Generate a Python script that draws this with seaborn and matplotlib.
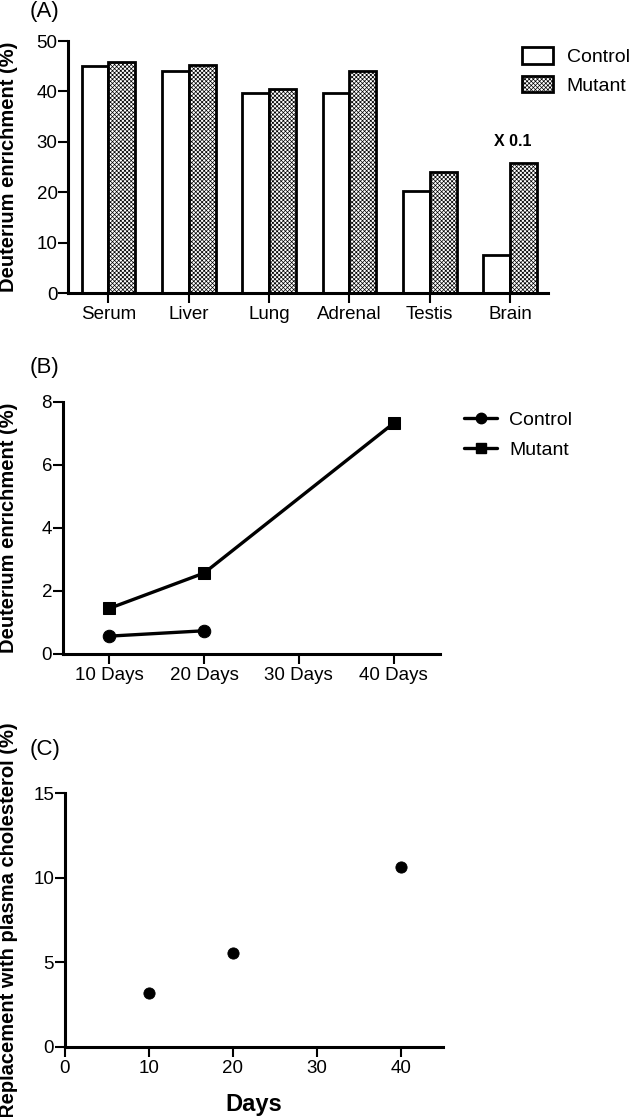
import matplotlib
matplotlib.use("Agg")
import pandas as pd
import matplotlib.pyplot as plt
import seaborn as sns
from matplotlib.patches import Patch
from matplotlib.lines import Line2D

# Panel A: deuterium enrichment by tissue
tissues = ["Serum", "Liver", "Lung", "Adrenal", "Testis", "Brain"]
control_enrich = [45.0, 44.0, 39.6, 39.7, 20.3, 7.5]
mutant_enrich = [45.9, 45.2, 40.5, 44.0, 24.1, 25.8]

# Panel B: enrichment over time
days_control = [10, 20]
control_time = [0.56, 0.73]
days_mutant = [10, 20, 40]
mutant_time = [1.44, 2.56, 7.31]
day_ticks = [10, 20, 30, 40]
day_labels = ["10 Days", "20 Days", "30 Days", "40 Days"]

# Panel C: replacement with plasma cholesterol
days_repl = [10, 20, 40]
replacement = [3.16, 5.55, 10.64]

W, H = 633, 1117

sns.set_style("ticks", {"axes.edgecolor": "black", "xtick.color": "black",
                        "ytick.color": "black", "text.color": "black",
                        "axes.labelcolor": "black"})
plt.rcParams["font.family"] = ["Liberation Sans", "DejaVu Sans"]
plt.rcParams["hatch.linewidth"] = 0.5

fig = plt.figure(figsize=(W / 100, H / 100), dpi=100)


def add_axes(left, right, top, bottom):
    return fig.add_axes([left / W, 1 - bottom / H, (right - left) / W, (bottom - top) / H])


def style_axes(ax):
    sns.despine(ax=ax)
    for s in ["left", "bottom"]:
        ax.spines[s].set_linewidth(2.2)
    ax.tick_params(width=1.5, length=7, labelsize=13.5, direction="out")
    ax.tick_params(axis="y", pad=0.5)
    ax.tick_params(axis="x", pad=2.5)


# ---- Panel A
axA = add_axes(68, 548.3, 41, 293.3)
df_a = pd.DataFrame({
    "tissue": tissues * 2,
    "value": control_enrich + mutant_enrich,
    "group": ["Control"] * len(tissues) + ["Mutant"] * len(tissues),
})
sns.barplot(data=df_a, x="tissue", y="value", hue="group", hue_order=["Control", "Mutant"],
            palette=["white", "white"], width=0.668, edgecolor="black", linewidth=2,
            saturation=1, errorbar=None, legend=False, ax=axA)
for bar in axA.containers[1]:
    bar.set_hatch("xxxxxxxx")
style_axes(axA)
axA.set_xlim(-0.504, 5.477)
axA.set_ylim(0, 50)
axA.set_yticks([0, 10, 20, 30, 40, 50])
axA.set_xlabel("")
axA.set_ylabel("Deuterium enrichment (%)", fontsize=14.5, fontweight="bold")
axA.yaxis.set_label_coords(-0.1035, 0.5)
axA.text(5.04, 30.0, "X 0.1", ha="center", va="center", fontsize=11.5, fontweight="bold")
handles_a = [Patch(facecolor="white", edgecolor="black", linewidth=2, label="Control"),
             Patch(facecolor="white", edgecolor="black", linewidth=2, hatch="xxxxxxxx", label="Mutant")]
axA.legend(handles=handles_a, loc="upper left", bbox_to_anchor=(521.7 / W, 1 - 47 / H),
           bbox_transform=fig.transFigure, frameon=False, fontsize=14, handlelength=1.63,
           handleheight=0.93, handletextpad=0.69, labelspacing=0.5, borderpad=0, borderaxespad=0)

# ---- Panel B
axB = add_axes(62.5, 440, 401.5, 653.8)
sns.lineplot(x=days_control, y=control_time, marker="o", markersize=9, color="black",
             markeredgecolor="black", linewidth=2.4, ax=axB)
sns.lineplot(x=days_mutant, y=mutant_time, marker="s", markersize=9, color="black",
             markeredgecolor="black", linewidth=2.4, ax=axB)
style_axes(axB)
axB.set_xlim(5.06, 44.9)
axB.set_ylim(0, 8)
axB.set_yticks([0, 2, 4, 6, 8])
axB.set_xticks(day_ticks)
axB.set_xticklabels(day_labels)
axB.set_ylabel("Deuterium enrichment (%)", fontsize=14.5, fontweight="bold")
axB.yaxis.set_label_coords(-0.118, 0.5)
handles_b = [Line2D([], [], color="black", linewidth=2.4, marker="o", markersize=7.5, label="Control"),
             Line2D([], [], color="black", linewidth=2.4, marker="s", markersize=7.5, label="Mutant")]
axB.legend(handles=handles_b, loc="upper left", bbox_to_anchor=(464.3 / W, 1 - 411 / H),
           bbox_transform=fig.transFigure, frameon=False, fontsize=14, handlelength=1.67,
           handletextpad=0.65, labelspacing=0.65, borderpad=0, borderaxespad=0)

# ---- Panel C
axC = add_axes(64.5, 443, 793.3, 1046.7)
sns.scatterplot(x=days_repl, y=replacement, s=65, color="black", edgecolor="black", ax=axC)
style_axes(axC)
axC.set_xlim(0, 45)
axC.set_ylim(0, 15)
axC.set_xticks([0, 10, 20, 30, 40])
axC.set_yticks([0, 5, 10, 15])
axC.set_xlabel("Days", fontsize=17, fontweight="bold")
axC.xaxis.set_label_coords(0.5, -0.184)
axC.set_ylabel("Replacement with plasma cholesterol (%)", fontsize=14.5, fontweight="bold")
axC.yaxis.set_label_coords(-0.123, 0.5)

# panel letters
for letter, ypix in [("(A)", 12), ("(B)", 368), ("(C)", 750)]:
    fig.text(30 / W, 1 - ypix / H, letter, fontsize=16, ha="left", va="center")

fig.savefig("out.png", dpi=100)
